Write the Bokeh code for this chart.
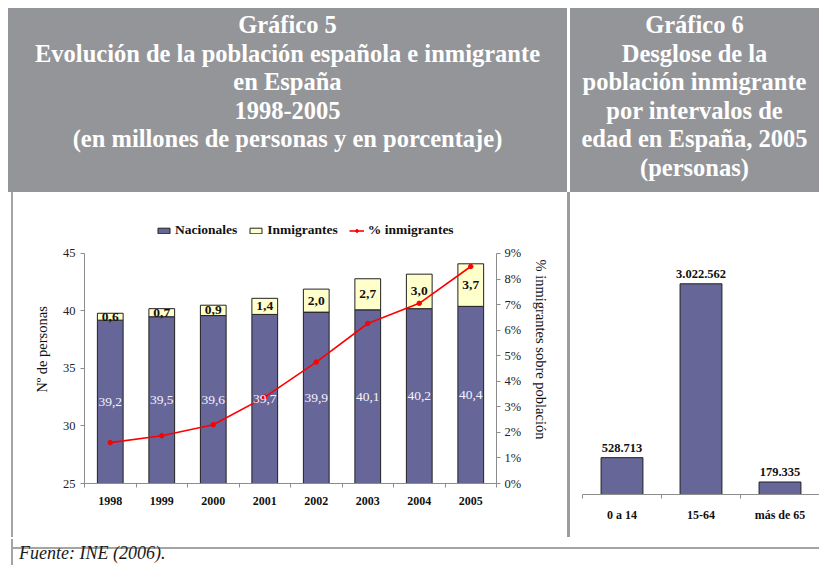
from bokeh.plotting import figure
from bokeh.models import (Div, Range1d, LinearAxis, FixedTicker, Legend, LegendItem,
                          PrintfTickFormatter)
from bokeh.layouts import row, column
from bokeh.core.properties import value
from bokeh.embed import file_html
from bokeh.resources import INLINE

# ---------------- data ----------------
years = ["1998", "1999", "2000", "2001", "2002", "2003", "2004", "2005"]
nacionales = [39.2, 39.5, 39.6, 39.7, 39.9, 40.1, 40.2, 40.4]
inmigrantes = [0.6, 0.7, 0.9, 1.4, 2.0, 2.7, 3.0, 3.7]
pct_inmigrantes = [1.6, 1.87, 2.3, 3.38, 4.75, 6.26, 7.05, 8.49]
y_ticks = [25, 30, 35, 40, 45]
pct_ticks = [0, 1, 2, 3, 4, 5, 6, 7, 8, 9]

age_groups = ["0 a 14", "15-64", "más de 65"]
age_values = [528713, 3022562, 179335]

SERIF = "Liberation Serif"
NAC_COLOR = "#666699"
INM_COLOR = "#FFFFCC"
RED = "#FF0000"
AXIS_GRAY = "#8c8c8c"
HEADER_GRAY = "#949599"
BORDER_GRAY = "#a4a4a4"

# ---------------- left chart ----------------
n = len(years)
xs = [i + 0.5 for i in range(n)]
base = y_ticks[0]
tops = [a + b for a, b in zip(nacionales, inmigrantes)]
nac_mid = [(base + a) / 2 for a in nacionales]
inm_mid = [a + b / 2 for a, b in zip(nacionales, inmigrantes)]
fmt = lambda v: f"{v:.1f}".replace(".", ",")

# frame is extended above the top tick to leave room for the legend
y_top = 48.3
pct_top = pct_ticks[-1] * (y_top - y_ticks[0]) / (y_ticks[-1] - y_ticks[0])

p = figure(width=554, height=345, x_range=Range1d(0, n), y_range=Range1d(y_ticks[0], y_top),
           output_backend="svg", toolbar_location=None, margin=0,
           min_border_left=71, min_border_right=71, min_border_top=23, min_border_bottom=54)
if "frame_align" in p.properties():
    p.frame_align = False
p.outline_line_color = None
p.grid.visible = False
p.background_fill_color = "white"
p.border_fill_color = "white"

r_nac = p.vbar(x=xs, bottom=base, top=nacionales, width=0.5, fill_color=NAC_COLOR,
               line_color="#222222", line_width=1)
r_inm = p.vbar(x=xs, bottom=nacionales, top=tops, width=0.5, fill_color=INM_COLOR,
               line_color="#222222", line_width=1)

p.extra_y_ranges = {"pct": Range1d(pct_ticks[0], pct_top)}
r_line = p.line(x=xs, y=pct_inmigrantes, y_range_name="pct", line_color=RED, line_width=1.6)
r_pts = p.scatter(x=xs, y=pct_inmigrantes, y_range_name="pct", marker="circle", size=4.5,
                  fill_color=RED, line_color=RED)

p.text(x=xs, y=nac_mid, text=[fmt(v) for v in nacionales], text_align="center",
       text_baseline="middle", text_color="#f4f4ff", text_font=value(SERIF),
       text_font_size="13.5px")
p.text(x=xs, y=inm_mid, text=[fmt(v) for v in inmigrantes], text_align="center",
       text_baseline="middle", text_color="#111111", text_font=value(SERIF),
       text_font_size="13.5px", text_font_style="bold")

# x axis
xa = p.xaxis[0]
xa.ticker = FixedTicker(ticks=xs, minor_ticks=list(range(n + 1)))
xa.major_label_overrides = {x: y for x, y in zip(xs, years)}
xa.major_tick_line_color = None
xa.major_tick_out = 0
xa.minor_tick_in = 0
xa.minor_tick_out = 4
xa.minor_tick_line_color = AXIS_GRAY
xa.axis_line_color = AXIS_GRAY
xa.major_label_standoff = 9
xa.major_label_text_font = SERIF
xa.major_label_text_font_size = "12px"
xa.major_label_text_font_style = "bold"
xa.major_label_text_color = "#111111"

# left y axis
ya = p.yaxis[0]
ya.bounds = (y_ticks[0], y_ticks[-1])
ya.ticker = FixedTicker(ticks=y_ticks)
ya.minor_tick_line_color = None
ya.major_tick_in = 0
ya.major_tick_out = 4
ya.major_tick_line_color = AXIS_GRAY
ya.axis_line_color = AXIS_GRAY
ya.major_label_standoff = 5
ya.major_label_text_font = SERIF
ya.major_label_text_font_size = "12.5px"
ya.major_label_text_color = "#222222"
ya.axis_label = "Nº de personas"
ya.axis_label_text_font = SERIF
ya.axis_label_text_font_size = "14.5px"
ya.axis_label_text_font_style = "normal"
ya.axis_label_text_color = "#111111"
ya.axis_label_standoff = 10

# right y axis
ra = LinearAxis(y_range_name="pct", ticker=FixedTicker(ticks=pct_ticks),
                formatter=PrintfTickFormatter(format="%d%%"),
                bounds=(pct_ticks[0], pct_ticks[-1]))
ra.minor_tick_line_color = None
ra.major_tick_in = 0
ra.major_tick_out = 4
ra.major_tick_line_color = AXIS_GRAY
ra.axis_line_color = AXIS_GRAY
ra.major_label_standoff = 4
ra.major_label_text_font = SERIF
ra.major_label_text_font_size = "12.5px"
ra.major_label_text_color = "#222222"
ra.axis_label = "% inmigrantes sobre población"
ra.axis_label_text_font = SERIF
ra.axis_label_text_font_size = "14.5px"
ra.axis_label_text_font_style = "normal"
ra.axis_label_text_color = "#111111"
ra.axis_label_standoff = 9
p.add_layout(ra, "right")

legend = Legend(items=[LegendItem(label="Nacionales", renderers=[r_nac]),
                       LegendItem(label="Inmigrantes", renderers=[r_inm]),
                       LegendItem(label="% inmigrantes", renderers=[r_line, r_pts])],
                orientation="horizontal", location=(72, 245), padding=0, margin=0,
                spacing=11, glyph_width=15, glyph_height=7, label_height=14,
                label_standoff=4, border_line_color=None, background_fill_alpha=0,
                label_text_font=SERIF, label_text_font_size="13.5px",
                label_text_font_style="bold", label_text_color="#111111")
p.add_layout(legend, "center")

# ---------------- right chart ----------------
m = len(age_groups)
xs2 = [i + 0.5 for i in range(m)]
q = figure(width=249, height=345, x_range=Range1d(0, m), y_range=Range1d(0, 3500000),
           output_backend="svg", toolbar_location=None, y_axis_location=None, margin=0,
           min_border_left=12, min_border_right=0, min_border_top=58, min_border_bottom=43)
if "frame_align" in q.properties():
    q.frame_align = False
q.outline_line_color = None
q.grid.visible = False
q.vbar(x=xs2, bottom=0, top=age_values, width=0.53, fill_color=NAC_COLOR,
       line_color="#222222", line_width=1)
q.text(x=xs2, y=age_values, text=[f"{v:,}".replace(",", ".") for v in age_values],
       text_align="center", text_baseline="bottom", y_offset=-6, text_color="#111111",
       text_font=value(SERIF), text_font_size="12.5px", text_font_style="bold")
qa = q.xaxis[0]
qa.ticker = FixedTicker(ticks=xs2, minor_ticks=list(range(m + 1)))
qa.major_label_overrides = {x: g for x, g in zip(xs2, age_groups)}
qa.major_tick_line_color = None
qa.major_tick_out = 0
qa.minor_tick_in = 0
qa.minor_tick_out = 4
qa.minor_tick_line_color = AXIS_GRAY
qa.axis_line_color = AXIS_GRAY
qa.major_label_standoff = 9
qa.major_label_text_font = SERIF
qa.major_label_text_font_size = "12px"
qa.major_label_text_font_style = "bold"
qa.major_label_text_color = "#111111"

# ---------------- frame / headers ----------------
hstyle = ("height:184px;background:%s;color:#ffffff;font-family:'Liberation Serif';"
          "font-weight:bold;font-size:24.5px;line-height:28.5px;text-align:center;"
          "padding-top:3px;box-sizing:border-box;white-space:nowrap;overflow:hidden;" % HEADER_GRAY)
head_l = Div(width=559, height=184, margin=0, text=(
    f'<div style="width:559px;{hstyle}">Gráfico 5<br>Evolución de la población española e inmigrante'
    '<br>en España<br>1998-2005<br>(en millones de personas y en porcentaje)</div>'))
head_r = Div(width=249, height=184, margin=0, text=(
    f'<div style="width:249px;{hstyle}">Gráfico 6<br>Desglose de la<br>población inmigrante'
    '<br>por intervalos de<br>edad en España, 2005<br>(personas)</div>'))
header = row(head_l, head_r, spacing=3, margin=0)


def block(w, h, color):
    return Div(width=w, height=h, margin=0,
               text=f'<div style="width:{w}px;height:{h}px;background:{color};"></div>')


body = row(block(3, 345, "#ffffff"), block(2, 345, BORDER_GRAY), p,
           block(3, 345, "#9c9c9c"), q, margin=0)
hline = block(811, 2, BORDER_GRAY)
foot_text = Div(width=798, height=26, margin=0, text=(
    '<div style="padding:5px 0 0 6px;font-family:\'Liberation Serif\';font-style:italic;'
    'font-size:18px;line-height:18px;color:#1a1a1a;white-space:nowrap;">Fuente: INE (2006).</div>'))
footer = row(block(3, 26, "#ffffff"), block(2, 26, BORDER_GRAY), foot_text, margin=0)

layout = column(header, body, hline, footer, spacing=0, margin=(8, 0, 0, 8))

open("out.html", "w").write(file_html(layout, INLINE))
